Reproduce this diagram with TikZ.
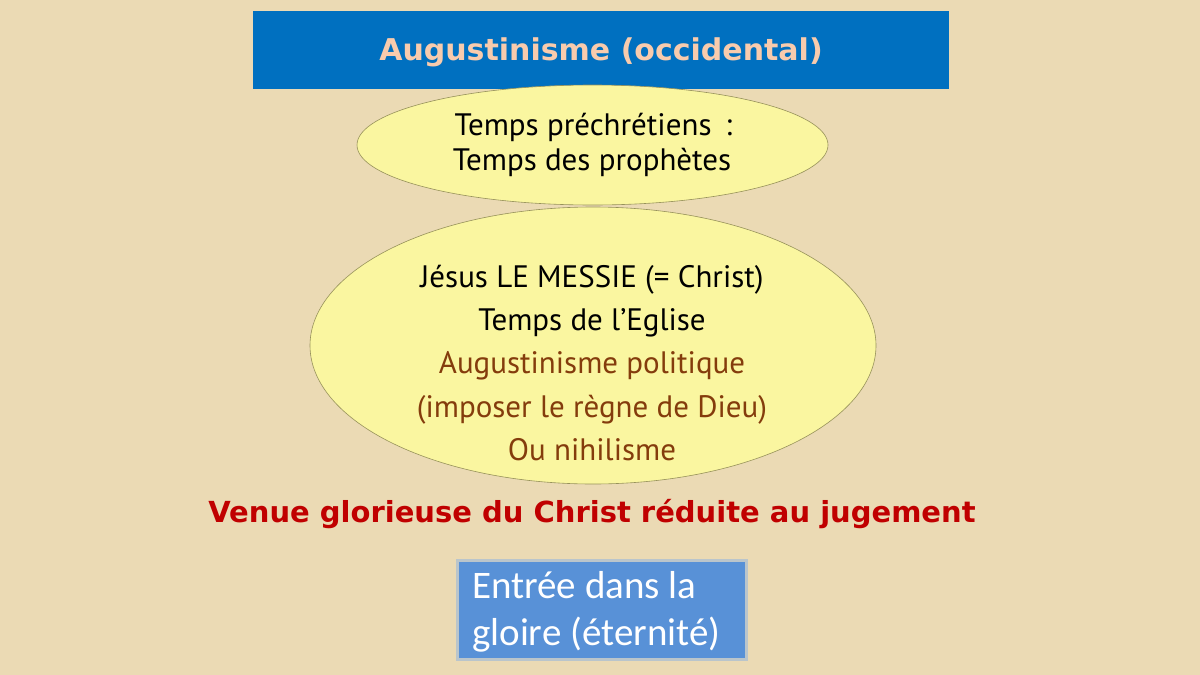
\documentclass[tikz,border=0pt]{standalone}
\usepackage{fontspec}
\setmainfont{PT Sans}
\newfontfamily\titlefont{DejaVu Sans}
\newfontfamily\boxfont{Carlito}
\usetikzlibrary{shapes.geometric}
\definecolor{parch}{RGB}{235,218,180}
\definecolor{titleblue}{RGB}{0,112,192}
\definecolor{peach}{RGB}{248,203,173}
\definecolor{ellfill}{RGB}{250,246,160}
\definecolor{elldraw}{RGB}{150,145,90}
\definecolor{brownt}{RGB}{132,60,12}
\definecolor{redt}{RGB}{192,0,0}
\definecolor{boxblue}{RGB}{88,145,215}
\tikzset{
  ell/.style={ellipse, fill=ellfill, draw=elldraw, line width=0.6pt, inner sep=0pt},
  elltext/.style={font=\fontsize{31}{35}\selectfont, align=center, inner sep=0pt, anchor=base},
  boxtext/.style={font=\boxfont\fontsize{39}{47}\selectfont, text=white, anchor=base west, inner sep=0pt},
}
\begin{document}
\begin{tikzpicture}[x=1pt,y=-1pt]
\fill[parch] (0,0) rectangle (1200,675);
\useasboundingbox (0,0) rectangle (1200,675);
% title
\fill[titleblue] (253,11) rectangle (949,89);
\node[font=\titlefont\bfseries\fontsize{30}{34}\selectfont, text=peach, anchor=base, inner sep=0pt] (title) at (601,60) {Augustinisme (occidental)};
% ellipse 2 (drawn first)
\node[ell, minimum width=566pt, minimum height=277pt] (e2) at (593,345.5) {};
% ellipse 1
\node[ell, minimum width=471pt, minimum height=120pt] (e1) at (592.5,145) {};
\node[elltext] (t1a) at (593.5,135) {Temps préchrétiens\hspace{0.45em}:};
\node[elltext] (t1b) at (592,170) {Temps des prophètes};
\node[elltext] (l1) at (592,287) {Jésus LE MESSIE (= Christ)};
\node[elltext] (l2) at (592,330) {Temps de l’Eglise};
\node[elltext, text=brownt] (l3) at (592,373) {Augustinisme politique};
\node[elltext, text=brownt] (l4) at (592,417) {(imposer le règne de Dieu)};
\node[elltext, text=brownt] (l5) at (592,460) {Ou nihilisme};
% red line
\node[font=\titlefont\bfseries\fontsize{29}{32}\selectfont, text=redt, anchor=base, inner sep=0pt] (venue) at (592,522) {Venue glorieuse du Christ réduite au jugement};
% bottom box
\fill[boxblue!70, opacity=0.5] (456,559) rectangle (748,661);
\fill[boxblue] (459,562) rectangle (745,658);
\node[boxtext] (entree1) at (472,598) {Entrée dans la};
\node[boxtext] (entree2) at (472,645) {gloire (éternité)};
\end{tikzpicture}
\end{document}
